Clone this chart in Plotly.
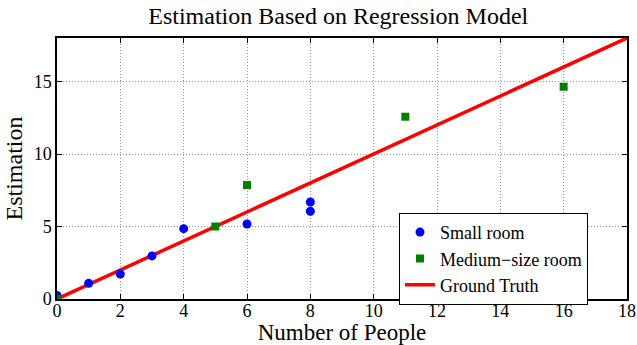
import plotly.graph_objects as go

small_x = [0, 1, 2, 3, 4, 6, 8, 8]
small_y = [0.25, 1.08, 1.72, 2.97, 4.85, 5.17, 6.69, 6.05]
med_x = [0, 5, 6, 11, 16]
med_y = [0.0, 5.0, 7.86, 12.57, 14.64]
truth_x = [0, 18]
truth_y = [0, 18]
x_ticks = [0, 2, 4, 6, 8, 10, 12, 14, 16, 18]
y_ticks = [0, 5, 10, 15]

FONT = "Liberation Serif"

fig = go.Figure()
fig.add_trace(go.Scatter(x=truth_x, y=truth_y, mode="lines", name="Ground Truth",
                         line=dict(color="#ff0000", width=3.5), legendrank=3))
fig.add_trace(go.Scatter(x=small_x, y=small_y, mode="markers", name="Small room",
                         marker=dict(color="#0000ff", size=9, symbol="circle"), legendrank=1))
fig.add_trace(go.Scatter(x=med_x, y=med_y, mode="markers", name="Medium\u2212size room",
                         marker=dict(color="#008000", size=8, symbol="square"), legendrank=2))

axis_common = dict(showline=True, linecolor="black", linewidth=1.5, mirror="ticks",
                   ticks="inside", ticklen=5, tickcolor="black",
                   showgrid=True, gridcolor="#999999", griddash="1px,2px", gridwidth=1,
                   zeroline=False, automargin=False)

fig.update_layout(
    width=637, height=345,
    margin=dict(l=57, r=10, t=38, b=46),
    paper_bgcolor="white", plot_bgcolor="white",
    title=dict(text="Estimation Based on Regression Model", x=0.531, xanchor="center",
               y=0.955, yanchor="middle",
               font=dict(family=FONT, size=24, color="black")),
    xaxis=dict(range=[0, 18], tickvals=x_ticks, ticklabelstandoff=-5,
               tickfont=dict(family=FONT, size=18, color="black"),
               title=dict(text="Number of People", font=dict(family=FONT, size=23, color="black"),
                          standoff=0), **axis_common),
    yaxis=dict(range=[0, 18], tickvals=y_ticks,
               tickfont=dict(family=FONT, size=18, color="black"),
               title=dict(text="Estimation", font=dict(family=FONT, size=24, color="black"),
                          standoff=4), **axis_common),
    legend=dict(x=0.6, y=0.33, xanchor="left", yanchor="top",
                bgcolor="white", bordercolor="black", borderwidth=1,
                font=dict(family=FONT, size=18, color="black"),
                tracegroupgap=0, itemwidth=30),
    showlegend=True,
)
fig.write_html("out.html")
